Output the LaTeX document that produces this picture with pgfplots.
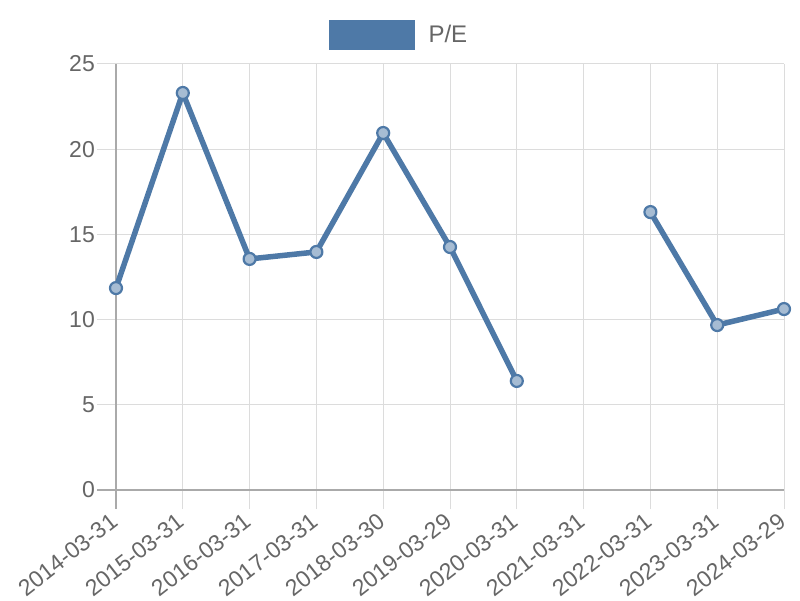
\documentclass[border=0pt]{standalone}
\usepackage{fontspec}
\setmainfont{Liberation Sans}
\usepackage{pgfplots}
\pgfplotsset{compat=1.18}

\definecolor{peblue}{RGB}{78,121,167}
\definecolor{txtgray}{RGB}{102,102,102}
\definecolor{gridgray}{RGB}{220,220,220}
\definecolor{axisgray}{RGB}{170,170,170}

\begin{document}
\begin{tikzpicture}[x=1pt,y=1pt]
\path[use as bounding box] (0,0) rectangle (800,600);
\begin{axis}[
    at={(116pt,110pt)}, anchor=south west,
    scale only axis,
    width=668pt, height=426pt,
    xmin=0, xmax=10,
    ymin=0, ymax=25,
    xtick={0,...,10},
    xticklabels={2014-03-31,2015-03-31,2016-03-31,2017-03-31,2018-03-30,2019-03-29,2020-03-31,2021-03-31,2022-03-31,2023-03-31,2024-03-29},
    ytick={0,5,...,25},
    x tick label style={rotate=38, anchor=north east, inner sep=1pt, xshift=-6pt, yshift=3pt},
    y tick label style={inner sep=2pt, xshift=0pt},
    tick label style={font=\fontsize{23}{27}\selectfont, text=txtgray},
    /pgf/number format/assume math mode=true,
    tick align=outside,
    major tick length=19pt,
    major tick style={gridgray, line width=1pt},
    extra x ticks={0}, extra x tick labels={},
    extra y ticks={0}, extra y tick labels={},
    extra tick style={major tick style={axisgray, line width=1.2pt}, grid=none},
    grid=major,
    grid style={gridgray, line width=1pt},
    axis x line*=bottom,
    axis y line*=left,
    axis line style={axisgray, line width=1.2pt, -},
    xtick pos=bottom, ytick pos=left,
    unbounded coords=jump,
    clip=false,
    legend style={at={(0.5,1)}, anchor=south, yshift=14pt, xshift=-51pt, draw=none,
        font=\fontsize{24}{28}\selectfont, text=txtgray, inner sep=0pt},
    legend image code/.code={
        \fill[peblue, draw=none] (0pt,-15pt) rectangle (86pt,15pt);
        \path (95pt,0pt);},
]
\addplot[peblue, line width=5.5pt, line join=round,
    mark=*, mark size=6pt,
    mark options={line width=2.2pt, draw=peblue, fill=peblue!50!white}]
  coordinates {
    (0,11.85) (1,23.3) (2,13.56) (3,13.97) (4,20.95) (5,14.26)
    (6,6.4) (7,nan) (8,16.31) (9,9.68) (10,10.62)
  };
\addlegendentry{P/E}
\end{axis}
\end{tikzpicture}
\end{document}
